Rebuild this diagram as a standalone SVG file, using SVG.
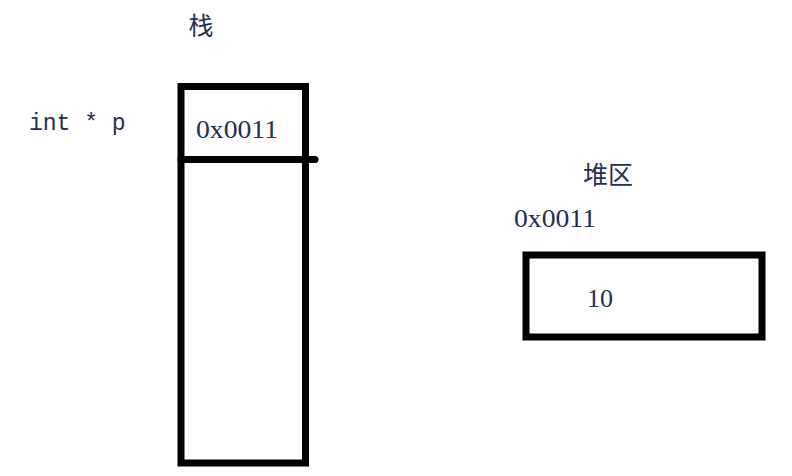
<svg xmlns="http://www.w3.org/2000/svg" width="792" height="476" viewBox="0 0 792 476">
<style>
.box{fill:none;stroke:#000;stroke-width:7}
.cjk{font-family:"Noto Sans CJK SC",sans-serif;font-size:25px;fill:#1f2f55}
.num{font-family:"Liberation Serif",serif;font-size:26px;fill:#1f2f55}
.mono{font-family:"Liberation Mono",monospace;font-size:23px;fill:#1f2f55}
</style>
<rect width="792" height="476" fill="#fff"/>
<g id="stack">
<rect class="box" x="181" y="86.5" width="124.5" height="376.5"/>
<text class="cjk" x="201" y="35" text-anchor="middle">栈</text>
<text class="num" x="196" y="138" textLength="82" lengthAdjust="spacingAndGlyphs">0x0011</text>
</g>
<g id="var">
<text class="mono" x="29" y="130">int * p</text>
</g>
<g id="heap">
<rect class="box" x="526" y="255" width="236" height="82"/>
<text class="cjk" x="608" y="184" text-anchor="middle">堆区</text>
<text class="num" x="514" y="227" textLength="82" lengthAdjust="spacingAndGlyphs">0x0011</text>
<text class="num" x="587" y="307">10</text>
</g>
<g id="connectors">
<line x1="181" y1="159.5" x2="315" y2="159.5" stroke="#000" stroke-width="7" stroke-linecap="round"/>
</g>
</svg>
